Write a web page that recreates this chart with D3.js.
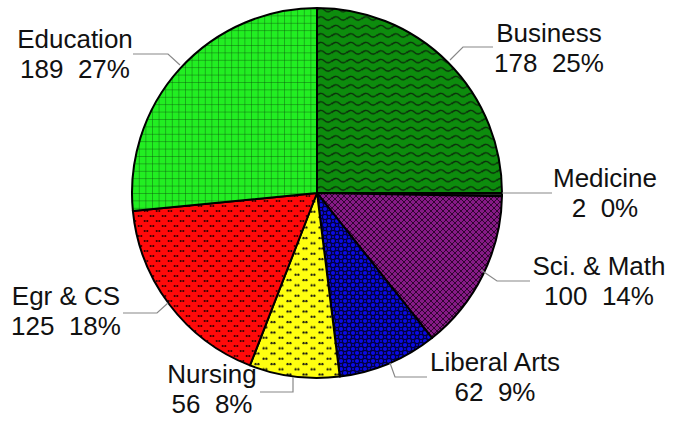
<!DOCTYPE html>
<html><head><meta charset="utf-8">
<script src="https://cdn.jsdelivr.net/npm/d3@7"></script>
<style>body{margin:0;background:#fff}svg{display:block}</style>
</head><body>
<svg id="chart" width="689" height="421"></svg>
<script>
const categories = ["Business","Medicine","Sci. & Math","Liberal Arts","Nursing","Egr & CS","Education"];
const values = [178, 2, 100, 62, 56, 125, 189];
const percentLabels = ["25%","0%","14%","9%","8%","18%","27%"];

// layout (label anchor = centre of first text line baseline, leader polyline)
const labelLayout = {
  "Business":     {x:549, y:42,  line:[[450,60],[463,47],[493,47]]},
  "Medicine":     {x:605, y:187, line:[[502,193],[552,193]]},
  "Sci. & Math":  {x:599, y:275, line:[[481,270],[497,281],[530,281]]},
  "Liberal Arts": {x:495, y:371, line:[[390,363],[395,377],[427,377]]},
  "Nursing":      {x:212, y:383, line:[[293,377],[293,392],[260,392]]},
  "Egr & CS":     {x:66,  y:305, line:[[168,303],[157,313],[123,313]]},
  "Education":    {x:75,  y:48,  line:[[180,65],[168,54],[133,54]]}
};
const cx = 317, cy = 193, R = 185;

const svg = d3.select("#chart");
const defs = svg.append("defs");

function pat(id, w, h, bg) {
  const p = defs.append("pattern").attr("id", id).attr("patternUnits","userSpaceOnUse")
    .attr("width", w).attr("height", h);
  p.append("rect").attr("width", w).attr("height", h).attr("fill", bg);
  return p;
}
// Business: waves
{
  const p = pat("p0", 15, 8.5, "#0d8c0d");
  p.append("path").attr("d","M-1,5.5 C2,1.5 5,1.5 7.5,4 C10,6.5 13,6.5 16,2.5")
   .attr("fill","none").attr("stroke","#0a2a0a").attr("stroke-width",1.3);
}
// Medicine
pat("p1", 4, 4, "#222");
// Sci & Math: crosshatch
{
  const p = pat("p2", 6, 6, "#861a86");
  p.append("path").attr("d","M0,0 L6,6 M6,0 L0,6 M-3,3 L3,9 M3,-3 L9,3 M3,9 L9,3 M-3,3 L3,-3")
   .attr("stroke","#1a001a").attr("stroke-width",0.8).attr("fill","none");
}
// Liberal Arts: rings
{
  const p = pat("p3", 8, 8, "#0a0ae6");
  [[4,4],[0,0],[8,0],[0,8],[8,8]].forEach(([x,y]) =>
    p.append("circle").attr("cx",x).attr("cy",y).attr("r",2.6)
     .attr("fill","none").attr("stroke","#000040").attr("stroke-width",1.1));
}
// Nursing: yellow with dot pairs
{
  const p = pat("p4", 16, 10.5, "#ffff10");
  [[4,3],[12,8.25]].forEach(([x,y]) => {
    p.append("circle").attr("cx",x-1.4).attr("cy",y).attr("r",1.15).attr("fill","#111");
    p.append("circle").attr("cx",x+1.4).attr("cy",y).attr("r",1.15).attr("fill","#111");
  });
}
// Egr & CS: red with dot pairs (denser)
{
  const p = pat("p5", 12, 10, "#ff0a0a");
  [[3,3],[9,8]].forEach(([x,y]) => {
    p.append("circle").attr("cx",x-1.3).attr("cy",y).attr("r",1.1).attr("fill","#300");
    p.append("circle").attr("cx",x+1.3).attr("cy",y).attr("r",1.1).attr("fill","#300");
  });
}
// Education: grid
{
  const p = pat("p6", 6.6, 7.4, "#22ee22");
  p.append("path").attr("d","M0,0 L0,7.4 M0,0 L6.6,0")
   .attr("stroke","#0a500a").attr("stroke-width",0.8).attr("fill","none");
}

const pie = d3.pie().sort(null).value(d => d.v).startAngle(0).endAngle(2*Math.PI);
const data = categories.map((c,i) => ({c, v: values[i], p: percentLabels[i], i}));
const arcs = pie(data);
const arc = d3.arc().innerRadius(0).outerRadius(R);

const g = svg.append("g").attr("transform", `translate(${cx},${cy})`);
g.selectAll("path.slice").data(arcs).join("path").attr("class","slice")
  .attr("d", arc)
  .attr("fill", d => `url(#p${d.data.i})`)
  .attr("stroke","#000").attr("stroke-width",2).attr("stroke-linejoin","round");

const line = d3.line();
svg.selectAll("path.leader").data(data).join("path").attr("class","leader")
  .attr("d", d => line(labelLayout[d.c].line))
  .attr("fill","none").attr("stroke","#888").attr("stroke-width",1.2);

const lbl = svg.selectAll("text.lbl").data(data).join("text").attr("class","lbl")
  .attr("text-anchor","middle")
  .attr("font-family","'Liberation Sans', Arial, sans-serif")
  .attr("font-size",26).attr("fill","#111");
lbl.append("tspan").attr("x", d => labelLayout[d.c].x).attr("y", d => labelLayout[d.c].y).text(d => d.c);
lbl.append("tspan").attr("x", d => labelLayout[d.c].x).attr("y", d => labelLayout[d.c].y + 30)
  .attr("xml:space","preserve").style("white-space","pre").text(d => d.v + "  " + d.p);
</script>
</body></html>
